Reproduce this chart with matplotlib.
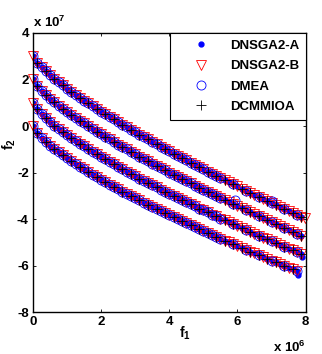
import matplotlib
matplotlib.use('Agg')
import matplotlib.pyplot as plt

plt.rcParams.update({
    'font.family': ['Liberation Sans', 'DejaVu Sans'],
    'font.weight': 'bold',
    'axes.unicode_minus': False,
    'mathtext.fontset': 'custom',
    'mathtext.rm': 'Liberation Sans:bold',
    'mathtext.bf': 'Liberation Sans:bold',
    'mathtext.it': 'Liberation Sans:bold',
})

# f1 in units of 1e6, f2 in units of 1e7
F1 = [0.000, 0.125, 0.250, 0.375, 0.500, 0.625, 0.750, 0.875,
      1.000, 1.125, 1.250, 1.375, 1.500, 1.625, 1.750, 1.875,
      2.000, 2.125, 2.250, 2.375, 2.500, 2.625, 2.750, 2.875,
      3.000, 3.125, 3.250, 3.375, 3.500, 3.625, 3.750, 3.875,
      4.000, 4.125, 4.250, 4.375, 4.500, 4.625, 4.750, 4.875,
      5.000, 5.125, 5.250, 5.375, 5.500, 5.625, 5.750, 5.875,
      6.000, 6.125, 6.250, 6.375, 6.500, 6.625, 6.750, 6.875,
      7.000, 7.125, 7.250, 7.375, 7.500, 7.625, 7.750, 7.875]

# the four Pareto fronts (one per time step)
FRONT1 = [3.00, 2.72, 2.53, 2.35, 2.19, 2.04, 1.89, 1.75, 1.61, 1.48, 1.35, 1.22, 1.09,
          0.97, 0.85, 0.73, 0.62, 0.50, 0.39, 0.28, 0.16, 0.05, -0.05, -0.16, -0.27,
          -0.37, -0.48, -0.58, -0.68, -0.79, -0.89, -0.99, -1.09, -1.19, -1.28, -1.38,
          -1.48, -1.58, -1.67, -1.77, -1.86, -1.96, -2.05, -2.14, -2.24, -2.33, -2.42,
          -2.51, -2.60, -2.69, -2.78, -2.87, -2.96, -3.05, -3.14, -3.23, -3.32, -3.40,
          -3.49, -3.58, -3.67, -3.75, -3.84, -3.92]
FRONT2 = [2.00, 1.72, 1.52, 1.34, 1.18, 1.03, 0.88, 0.74, 0.61, 0.48, 0.35, 0.23, 0.11,
          -0.01, -0.13, -0.25, -0.36, -0.47, -0.58, -0.69, -0.80, -0.90, -1.01, -1.11,
          -1.21, -1.32, -1.42, -1.52, -1.62, -1.71, -1.81, -1.91, -2.00, -2.10, -2.19,
          -2.29, -2.38, -2.47, -2.56, -2.66, -2.75, -2.84, -2.93, -3.02, -3.10, -3.19,
          -3.28, -3.37, -3.45, -3.54, -3.63, -3.71, -3.80, -3.88, -3.97, -4.05, -4.14,
          -4.22, -4.30, -4.38, -4.47, -4.55, -4.63, -4.71]
FRONT3 = [1.00, 0.71, 0.51, 0.33, 0.17, 0.02, -0.12, -0.26, -0.39, -0.52, -0.64, -0.76, -0.88,
          -1.00, -1.11, -1.22, -1.33, -1.44, -1.55, -1.65, -1.76, -1.86, -1.96, -2.06, -2.16,
          -2.26, -2.36, -2.45, -2.55, -2.64, -2.74, -2.83, -2.92, -3.01, -3.10, -3.19, -3.28,
          -3.37, -3.46, -3.55, -3.63, -3.72, -3.81, -3.89, -3.98, -4.06, -4.14, -4.23, -4.31,
          -4.39, -4.47, -4.56, -4.64, -4.72, -4.80, -4.88, -4.96, -5.04, -5.12, -5.20, -5.27,
          -5.35, -5.43, -5.51]
FRONT4 = [0.00, -0.30, -0.50, -0.68, -0.84, -0.98, -1.13, -1.26, -1.39, -1.52, -1.64, -1.76,
          -1.87, -1.98, -2.09, -2.20, -2.31, -2.42, -2.52, -2.62, -2.72, -2.82, -2.92, -3.01,
          -3.11, -3.20, -3.30, -3.39, -3.48, -3.57, -3.66, -3.75, -3.84, -3.93, -4.01, -4.10,
          -4.19, -4.27, -4.36, -4.44, -4.52, -4.60, -4.69, -4.77, -4.85, -4.93, -5.01, -5.09,
          -5.17, -5.25, -5.33, -5.40, -5.48, -5.56, -5.64, -5.71, -5.79, -5.86, -5.94, -6.01,
          -6.09, -6.16, -6.24]

# a few stray solutions that stick out of the bands
EXTRA_A_X = [7.88, 7.78]
EXTRA_A_Y = [-5.65, -6.41]
EXTRA_B_X = [7.97]
EXTRA_B_Y = [-3.95]
EXTRA_D_X = [5.92, 7.00]
EXTRA_D_Y = [-3.18, -3.21]

fronts = [FRONT1, FRONT2, FRONT3, FRONT4]


def collect(sel):
    xs, ys = [], []
    for fr in fronts:
        fx = F1[:len(fr)]
        for i in sel(len(fr)):
            xs.append(fx[i])
            ys.append(fr[i])
    return xs, ys


xa, ya = collect(lambda n: range(n))
xb, yb = collect(lambda n: range(n))
xd, yd = collect(lambda n: list(range(44)) + list(range(44, n, 3)))
xc, yc = collect(lambda n: range(1, n, 2))

fig = plt.figure(figsize=(3.22, 3.54), dpi=100)
ax = fig.add_axes([0.1025, 0.1186, 0.8466, 0.7882])

ax.plot(xa + EXTRA_A_X, ya + EXTRA_A_Y, '.', color='b', ms=7, label='DNSGA2-A')
ax.plot(xb + EXTRA_B_X, yb + EXTRA_B_Y, 'v', color='r', mfc='none', ms=7.5, mew=0.6,
        label='DNSGA2-B', clip_on=False)
ax.plot(xd + EXTRA_D_X, yd + EXTRA_D_Y, 'o', color='b', mfc='none', ms=6.5, mew=0.6,
        label='DMEA')
ax.plot(xc, yc, '+', color='k', ms=7, mew=0.6, label='DCMMIOA')

ax.set_xlim(0, 8)
ax.set_ylim(-8, 4)
ax.set_xticks([0, 2, 4, 6, 8])
ax.set_yticks([-8, -6, -4, -2, 0, 2, 4])
ax.tick_params(direction='in', top=True, right=True, length=2.5, width=0.6,
               labelsize=9.5, pad=3)
for sp in ax.spines.values():
    sp.set_linewidth(1.0)

leg = ax.legend(loc='upper right', bbox_to_anchor=(1, 1), borderaxespad=0, numpoints=1,
                fancybox=False, framealpha=1, edgecolor='k', fontsize=9.5,
                borderpad=0.5, labelspacing=0.62, handlelength=3.8, handletextpad=0.26)
leg.get_frame().set_linewidth(0.8)

fig.text(0.575, 0.045, r'$f_1$', ha='center', va='baseline', fontsize=10)
fig.text(0.03, 0.593, r'$f_2$', ha='center', va='center', rotation=90, fontsize=10)
ax.text(0.0, 1.02, r'x 10$^7$', transform=ax.transAxes, ha='left', va='baseline', fontsize=9.5)
fig.text(0.848, 0.005, r'x 10$^6$', ha='left', va='baseline', fontsize=9.5)

fig.savefig('out.png')
